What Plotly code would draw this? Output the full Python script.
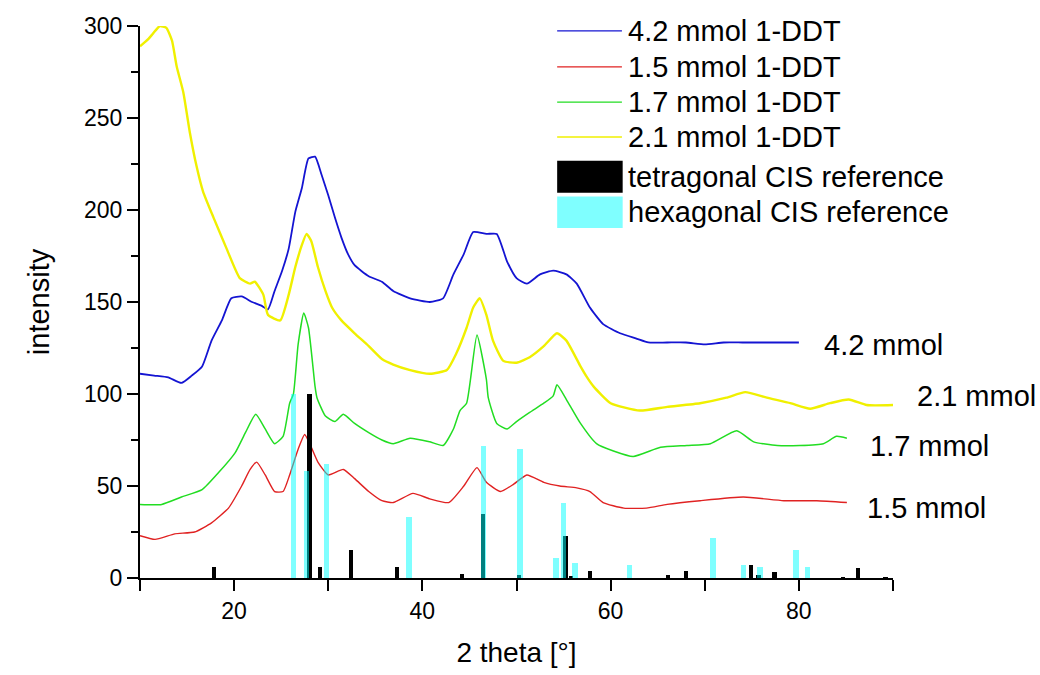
import plotly.graph_objects as go

# ---- XRD patterns (2 theta in degrees, intensity) ----
x_42 = [10.0, 11.5, 13.0, 14.4, 15.5, 16.6, 17.6, 18.7, 19.7, 20.8, 21.9, 22.9, 23.6, 24.3,
        25.1, 25.8, 26.5, 27.2, 27.9, 28.6, 29.3, 30.0, 30.7, 31.4, 32.1, 32.8, 34.3, 35.7,
        36.9, 38.7, 40.8, 42.2, 43.3, 44.4, 45.4, 46.8, 47.9, 49.0, 50.0, 51.1, 52.5, 53.9,
        55.3, 56.4, 57.8, 59.2, 61.0, 62.8, 64.0, 66.0, 68.0, 70.0, 72.0, 74.0, 76.0, 78.0, 80.0]
y_42 = [111, 110, 109, 106, 110, 115, 129, 140, 152, 153, 150, 148, 146, 156,
        167, 179, 199, 212, 228, 229, 219, 208, 196, 185, 176, 170, 164, 161,
        156, 152, 150, 152, 165, 176, 188, 187, 187, 172, 163, 160, 165, 167,
        165, 160, 147, 138, 133, 130, 128, 128, 128, 127, 128, 128, 128, 128, 128]

x_21 = [10.0, 10.9, 11.4, 12.1, 12.8, 13.4, 13.9, 14.6, 15.3, 16.0, 16.7, 17.8, 19.2, 20.6,
        21.7, 22.2, 23.1, 23.6, 24.9, 25.8, 26.5, 27.2, 27.7, 28.2, 28.9, 29.7, 30.4, 31.4,
        32.8, 34.3, 35.7, 36.9, 38.7, 40.8, 42.6, 43.6, 44.7, 45.4, 46.1, 46.8, 47.5, 48.6,
        50.0, 51.4, 52.9, 54.3, 55.3, 56.8, 57.5, 58.2, 60.0, 63.1, 66.0, 69.5, 72.3, 74.3,
        76.6, 79.1, 81.2, 83.3, 85.3, 87.2, 90.0]
y_21 = [289, 293, 296, 300, 299, 292, 278, 264, 242, 224, 210, 196, 179, 163,
        160, 161, 154, 143, 140, 154, 169, 181, 187, 183, 169, 156, 147, 140,
        133, 126, 119, 116, 113, 111, 113, 122, 136, 147, 152, 143, 129, 118,
        117, 120, 126, 133, 129, 115, 109, 104, 95, 91, 93, 95, 98, 101,
        98, 95, 92, 95, 97, 94, 94]

x_17 = [10.0, 12.3, 14.4, 16.6, 18.3, 20.1, 21.2, 22.3, 23.3, 24.3, 25.2, 25.9, 26.3, 26.8,
        27.4, 27.9, 28.6, 28.8, 29.7, 30.7, 31.6, 32.8, 34.3, 35.7, 36.9, 38.7, 40.8, 42.2,
        43.3, 44.0, 44.7, 45.8, 46.8, 47.0, 47.9, 49.0, 50.0, 51.4, 52.9, 53.9, 54.3, 55.3,
        56.8, 58.5, 60.3, 62.4, 65.3, 68.1, 70.6, 73.4, 75.2, 77.7, 80.1, 82.6, 84.0, 85.1]
y_17 = [40, 40, 44, 48, 57, 68, 79, 89, 81, 73, 77, 95, 100, 127,
        144, 136, 104, 98, 88, 85, 89, 84, 79, 75, 73, 76, 74, 72,
        81, 91, 95, 132, 108, 98, 84, 81, 85, 90, 95, 99, 105, 97,
        84, 73, 69, 66, 71, 72, 73, 80, 74, 72, 72, 73, 77, 76]

x_15 = [10.0, 11.6, 13.7, 15.8, 17.6, 19.4, 20.8, 21.7, 22.4, 23.3, 24.3, 25.2, 25.9, 26.8,
        27.5, 28.2, 28.9, 30.0, 31.6, 32.8, 34.3, 35.7, 36.9, 39.0, 40.8, 42.8, 44.4, 45.8,
        46.8, 48.3, 49.7, 51.1, 52.9, 54.6, 56.4, 57.8, 59.2, 61.4, 63.8, 66.0, 69.5, 74.1,
        78.4, 81.9, 85.1]
y_15 = [23, 21, 24, 25, 30, 38, 50, 59, 63, 56, 47, 47, 56, 70,
        78, 71, 63, 56, 59, 54, 47, 42, 41, 46, 43, 41, 50, 60,
        52, 47, 51, 56, 52, 50, 49, 47, 41, 38, 38, 40, 42, 44,
        42, 42, 41]

# ---- reference reflections ----
tet_pos = [17.9, 28.0, 29.1, 32.4, 37.3, 44.2, 46.4, 50.3, 55.2, 55.8, 57.8, 66.1, 68.0,
           74.9, 75.7, 77.4, 84.7, 86.3, 89.2]
tet_int = [6, 100, 6, 15, 6, 2, 35, 1.5, 23, 1, 4, 1.5, 4, 7, 1.5, 3, 0.5, 5.5, 0.5]

hex_pos = [26.3, 27.7, 29.8, 38.6, 46.5, 50.4, 54.2, 55.0, 56.2, 62.0, 70.9, 74.1, 75.9, 79.7, 80.9]
hex_int = [100, 58, 62, 33, 72, 70, 11, 41, 8, 7, 22, 7, 6, 15, 6]

series = [
    ("4.2 mmol 1-DDT", x_42, y_42, "#1414d2", 1.8),
    ("1.5 mmol 1-DDT", x_15, y_15, "#e02222", 1.4),
    ("1.7 mmol 1-DDT", x_17, y_17, "#22dd22", 1.5),
    ("2.1 mmol 1-DDT", x_21, y_21, "#f0f000", 2.4),
]
curve_labels = [("4.2 mmol", 0.906, 0.422), ("2.1 mmol", 1.029, 0.329),
                ("1.7 mmol", 0.967, 0.239), ("1.5 mmol", 0.963, 0.126)]

TET_COLOR = "#000000"
HEX_COLOR = "rgba(0,255,255,0.5)"
FONT = "Liberation Sans, Arial, sans-serif"

fig = go.Figure()
for name, xs, ys, color, w in series:
    fig.add_trace(go.Scatter(x=xs, y=ys, mode="lines", name=name,
                             line=dict(color=color, width=w, shape="spline", smoothing=0.5),
                             showlegend=False))

# reflections sit on an overlaid axis pair so they render above the curves
fig.add_trace(go.Bar(x=tet_pos, y=tet_int, width=0.45, marker=dict(color=TET_COLOR, line=dict(width=0)),
                     name="tetragonal CIS reference", xaxis="x2", yaxis="y2", showlegend=False))
fig.add_trace(go.Bar(x=hex_pos, y=hex_int, width=0.6, marker=dict(color=HEX_COLOR, line=dict(width=0)),
                     name="hexagonal CIS reference", xaxis="x2", yaxis="y2", showlegend=False))

# hand-built legend
shapes = []
annotations = []
row_y = [0.991, 0.926, 0.862, 0.799]
for (name, _, _, color, _), yy in zip(series, row_y):
    shapes.append(dict(type="line", xref="paper", yref="paper", x0=0.554, x1=0.640, y0=yy, y1=yy,
                       line=dict(color=color, width=1.2 if color != "#f0f000" else 1.6)))
    annotations.append(dict(text=name, xref="paper", yref="paper", x=0.646, y=yy, xanchor="left",
                            yanchor="middle", showarrow=False, font=dict(size=29, color="black", family=FONT)))
for label, color, y0, y1 in [("tetragonal CIS reference", TET_COLOR, 0.698, 0.756),
                             ("hexagonal CIS reference", HEX_COLOR, 0.634, 0.691)]:
    shapes.append(dict(type="rect", xref="paper", yref="paper", x0=0.554, x1=0.641, y0=y0, y1=y1,
                       fillcolor=color, line=dict(width=0)))
    annotations.append(dict(text=label, xref="paper", yref="paper", x=0.646, y=(y0 + y1) / 2,
                            xanchor="left", yanchor="middle", showarrow=False,
                            font=dict(size=29, color="black", family=FONT)))

for text, xx, yy in curve_labels:
    annotations.append(dict(text=text, xref="paper", yref="paper", x=xx, y=yy, xanchor="left",
                            yanchor="middle", showarrow=False, font=dict(size=29, color="black", family=FONT)))

axis_common = dict(showgrid=False, zeroline=False, showline=True, linecolor="black", linewidth=2,
                   ticks="outside", tickcolor="black", tickwidth=2, ticklen=11,
                   tickfont=dict(size=23, color="black", family=FONT))

fig.update_layout(
    width=1040, height=675, autosize=False,
    margin=dict(l=140, r=147, t=26, b=92),
    paper_bgcolor="white", plot_bgcolor="white",
    barmode="overlay", bargap=0,
    xaxis=dict(range=[10, 90], tick0=0, dtick=20,
               minor=dict(dtick=10, tick0=0, ticks="outside", ticklen=11, tickwidth=2, tickcolor="black"),
               title=dict(text="2 theta [°]", font=dict(size=28, color="black", family=FONT), standoff=20),
               **axis_common),
    yaxis=dict(range=[0, 300], tick0=0, dtick=50,
               minor=dict(dtick=25, tick0=0, ticks="outside", ticklen=7, tickwidth=2, tickcolor="black"),
               title=dict(text="intensity", font=dict(size=29, color="black", family=FONT), standoff=26),
               **axis_common),
    xaxis2=dict(overlaying="x", matches="x", visible=False, range=[10, 90]),
    yaxis2=dict(overlaying="y", matches="y", visible=False, range=[0, 300]),
    shapes=shapes,
    annotations=annotations,
    showlegend=False,
)

fig.write_html("out.html")
